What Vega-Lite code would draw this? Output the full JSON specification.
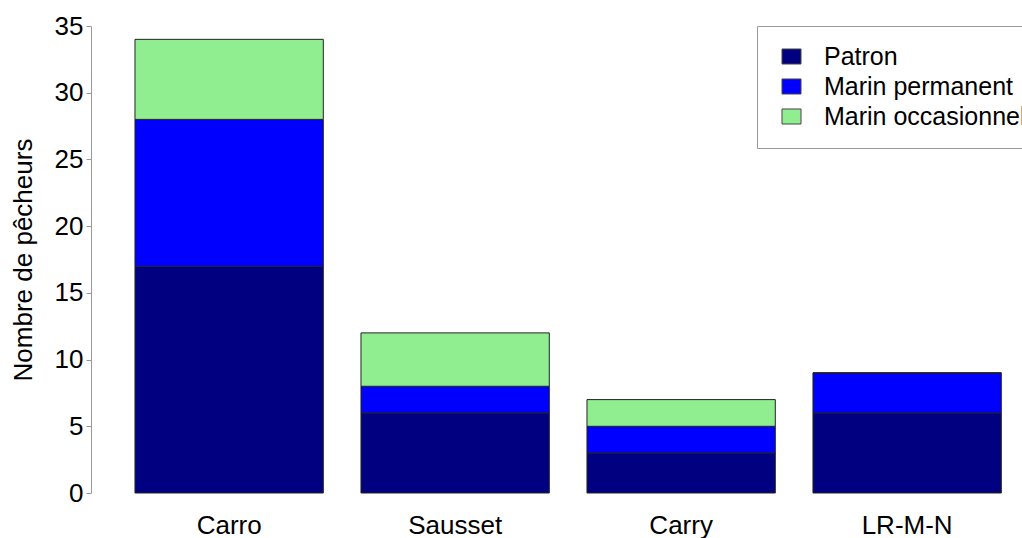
{
  "$schema": "https://vega.github.io/schema/vega-lite/v6.json",
  "width": 931,
  "height": 467,
  "autosize": {"type": "none"},
  "padding": {"left": 91, "top": 26, "right": 0, "bottom": 45},
  "background": "white",
  "config": {"view": {"stroke": null}, "font": "Liberation Sans", "axis": {"grid": false}},
  "data": {
    "values": [
      {"site": "Carro", "type": "Patron", "ord": 1, "n": 17},
      {"site": "Carro", "type": "Marin permanent", "ord": 2, "n": 11},
      {"site": "Carro", "type": "Marin occasionnel", "ord": 3, "n": 6},
      {"site": "Sausset", "type": "Patron", "ord": 1, "n": 6},
      {"site": "Sausset", "type": "Marin permanent", "ord": 2, "n": 2},
      {"site": "Sausset", "type": "Marin occasionnel", "ord": 3, "n": 4},
      {"site": "Carry", "type": "Patron", "ord": 1, "n": 3},
      {"site": "Carry", "type": "Marin permanent", "ord": 2, "n": 2},
      {"site": "Carry", "type": "Marin occasionnel", "ord": 3, "n": 2},
      {"site": "LR-M-N", "type": "Patron", "ord": 1, "n": 6},
      {"site": "LR-M-N", "type": "Marin permanent", "ord": 2, "n": 3},
      {"site": "LR-M-N", "type": "Marin occasionnel", "ord": 3, "n": 0}
    ]
  },
  "mark": {"type": "bar", "stroke": "#222", "strokeWidth": 1},
  "encoding": {
    "x": {
      "field": "site",
      "type": "nominal",
      "sort": ["Carro", "Sausset", "Carry", "LR-M-N"],
      "scale": {"paddingInner": 0.1667, "paddingOuter": 0.1431, "align": 0.68},
      "axis": {"title": null, "labelAngle": 0, "ticks": false, "domain": false, "labelFontSize": 26, "labelColor": "black", "labelPadding": 19}
    },
    "y": {
      "field": "n",
      "type": "quantitative",
      "stack": "zero",
      "scale": {"domain": [0, 35], "nice": false},
      "axis": {
        "title": "Nombre de pêcheurs",
        "values": [0, 5, 10, 15, 20, 25, 30, 35],
        "domainColor": "#999999",
        "tickColor": "#999999",
        "tickSize": 5,
        "labelFontSize": 26,
        "titleFontSize": 26,
        "titleFontWeight": "normal",
        "labelPadding": 3,
        "titlePadding": 18,
        "labelColor": "black",
        "titleColor": "black"
      }
    },
    "color": {
      "field": "type",
      "type": "nominal",
      "scale": {"domain": ["Patron", "Marin permanent", "Marin occasionnel"], "range": ["#000080", "#0000FF", "#90EE90"]},
      "legend": {
        "title": null,
        "orient": "none",
        "legendX": 666,
        "legendY": 0,
        "fillColor": "white",
        "strokeColor": "#999999",
        "padding": 18,
        "labelFontSize": 25,
        "labelColor": "black",
        "labelLimit": 400,
        "symbolType": "M-1,-0.79H1V0.79H-1Z",
        "symbolSize": 361,
        "symbolOffset": 4,
        "symbolStrokeColor": "#444",
        "symbolStrokeWidth": 1,
        "labelOffset": 20,
        "rowPadding": 4
      }
    },
    "order": {"field": "ord", "type": "quantitative"}
  }
}
